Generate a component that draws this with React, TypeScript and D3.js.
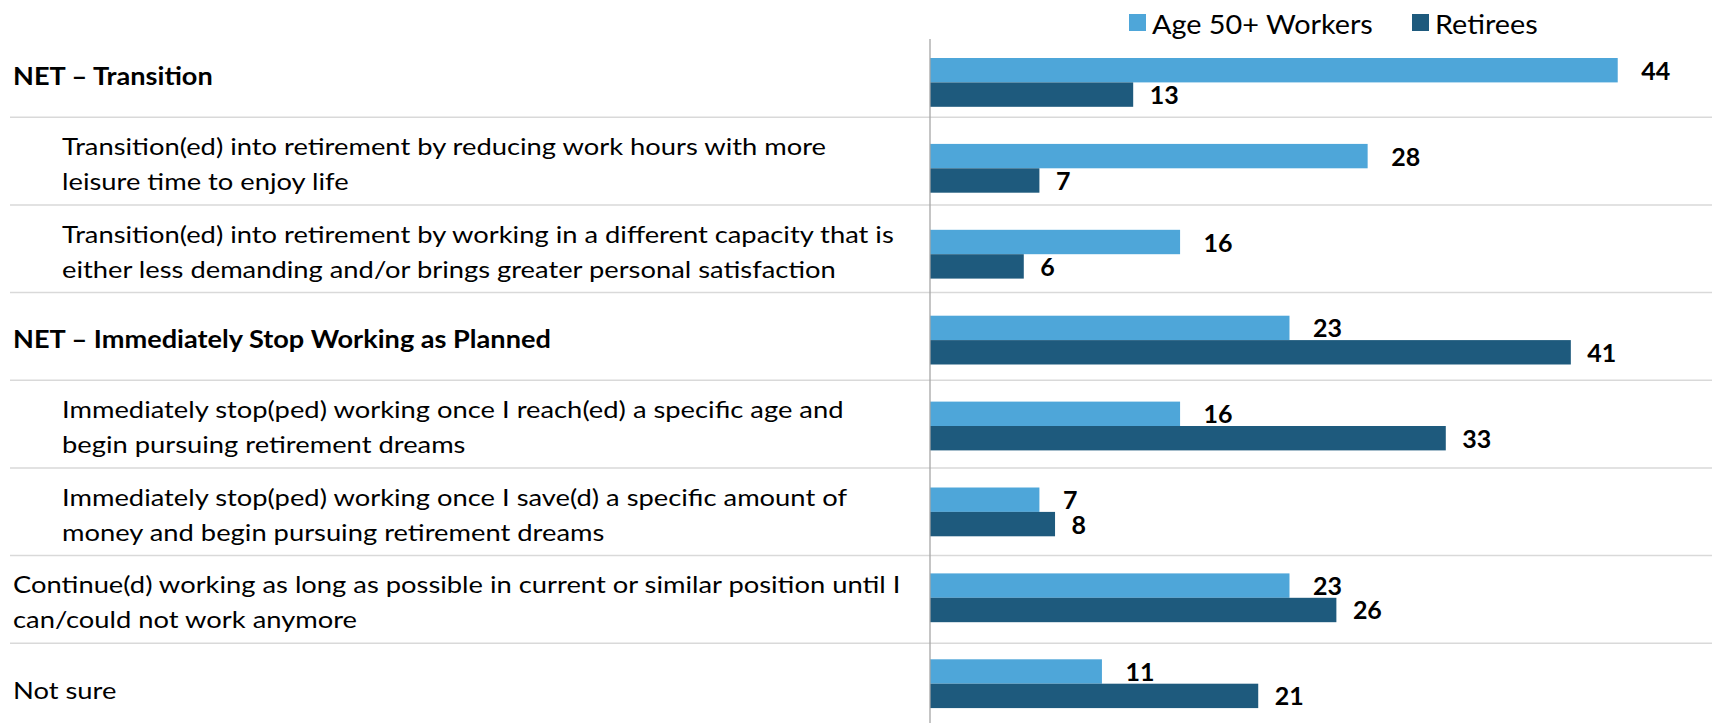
import React, { useLayoutEffect, useRef, useState } from 'react';
import * as d3 from 'd3';

const categories: string[][] = [
  ['NET – Transition'],
  ['Transition(ed) into retirement by reducing work hours with more', 'leisure time to enjoy life'],
  ['Transition(ed) into retirement by working in a different capacity that is', 'either less demanding and/or brings greater personal satisfaction'],
  ['NET – Immediately Stop Working as Planned'],
  ['Immediately stop(ped) working once I reach(ed) a specific age and', 'begin pursuing retirement dreams'],
  ['Immediately stop(ped) working once I save(d) a specific amount of', 'money and begin pursuing retirement dreams'],
  ['Continue(d) working as long as possible in current or similar position until I', 'can/could not work anymore'],
  ['Not sure'],
];
const categoryBold = [true, false, false, true, false, false, false, false];
const categoryIndent = [false, true, true, false, true, true, false, false];
const seriesNames = ['Age 50+ Workers', 'Retirees'];
const workers = [44, 28, 16, 23, 16, 7, 23, 11];
const retirees = [13, 7, 6, 41, 33, 8, 26, 21];
const colors = ['#4ea6d9', '#1e5a7d'];

const W = 1712;
const H = 723;
const FONT = 'Lato, "Open Sans", sans-serif';

export default function App() {
  const regRef = useRef<SVGTextElement>(null);
  const boldRef = useRef<SVGTextElement>(null);
  const legRef = useRef<SVGTextElement>(null);
  const valRef = useRef<SVGTextElement>(null);
  const [sx, setSx] = useState({ reg: 1, bold: 1, leg: 1, val: 1 });

  useLayoutEffect(() => {
    const m = (r: React.RefObject<SVGTextElement>, target: number) => {
      const w = r.current ? r.current.getComputedTextLength() : 0;
      return w > 0 ? target / w : 1;
    };
    setSx({
      reg: m(regRef, 774),
      bold: m(boldRef, 538),
      leg: m(legRef, 221),
      val: m(valRef, 29),
    });
  }, []);

  const x = d3.scaleLinear().domain([0, 50]).range([930, 930 + 50 * 15.63]);
  const y = d3.scaleBand<number>().domain(d3.range(categories.length)).range([20.9, 745.2]).padding(0.432);
  const ySeries = d3.scaleBand<number>().domain([0, 1]).range([0, y.bandwidth()]);
  const rowScale = d3.scaleBand<number>().domain(d3.range(categories.length)).range([29.6, 29.6 + 8 * 87.67]);
  const series = [workers, retirees];
  const labelGap = [23.5, 16.5];

  const regSize = 24;
  const valSize = 25;
  const legSize = 27;
  const lineH = 35;

  return (
    <svg width={W} height={H} style={{ position: 'absolute', left: 0, top: 0, background: '#fff' }} fontFamily={FONT}>
      {/* hidden measurement texts */}
      <g visibility="hidden">
        <text ref={regRef} fontSize={regSize}>either less demanding and/or brings greater personal satisfaction</text>
        <text ref={boldRef} fontSize={regSize} fontWeight="bold">NET – Immediately Stop Working as Planned</text>
        <text ref={legRef} fontSize={legSize}>Age 50+ Workers</text>
        <text ref={valRef} fontSize={valSize} fontWeight="bold">23</text>
      </g>

      {/* row separators */}
      {d3.range(1, categories.length).map((i) => (
        <line key={'sep' + i} x1={10} x2={W} y1={rowScale(i)!} y2={rowScale(i)!} stroke="#d9d9d9" strokeWidth={1.5} />
      ))}

      {/* category labels */}
      {categories.map((lines, i) => {
        const center = rowScale(i)! + rowScale.bandwidth() / 2;
        const first = center + 11.5 - ((lines.length - 1) * lineH) / 2;
        const lx = categoryIndent[i] ? 62 : 13;
        const s = categoryBold[i] ? sx.bold : sx.reg;
        return lines.map((ln, j) => (
          <text
            key={'lab' + i + '-' + j}
            transform={`translate(${lx},${first + j * lineH}) scale(${s},1)`}
            fontSize={regSize}
            fontWeight={categoryBold[i] ? 'bold' : 'normal'}
            fill="#000"
          >
            {ln}
          </text>
        ));
      })}

      {/* bars */}
      {series.map((vals, si) =>
        vals.map((v, i) => {
          const by = y(i)! + ySeries(si)!;
          const bh = ySeries.bandwidth();
          return (
            <g key={'bar' + si + '-' + i}>
              <rect x={x(0)} y={by} width={x(v) - x(0)} height={bh} fill={colors[si]} />
              <text
                transform={`translate(${x(v) + labelGap[si]},${by + bh / 2 + 9.5}) scale(${sx.val},1)`}
                fontSize={valSize}
                fontWeight="bold"
                fill="#000"
              >
                {v}
              </text>
            </g>
          );
        })
      )}

      {/* axis line */}
      <line x1={x(0)} x2={x(0)} y1={39} y2={H} stroke="#a6a6a6" strokeWidth={1.3} />

      {/* legend */}
      {seriesNames.map((name, si) => {
        const lxPos = [1129, 1412][si];
        return (
          <g key={'leg' + si}>
            <rect x={lxPos} y={14} width={17} height={17} fill={colors[si]} />
            <text transform={`translate(${lxPos + 23},33.5) scale(${sx.leg},1)`} fontSize={legSize} fill="#000">
              {name}
            </text>
          </g>
        );
      })}
    </svg>
  );
}
